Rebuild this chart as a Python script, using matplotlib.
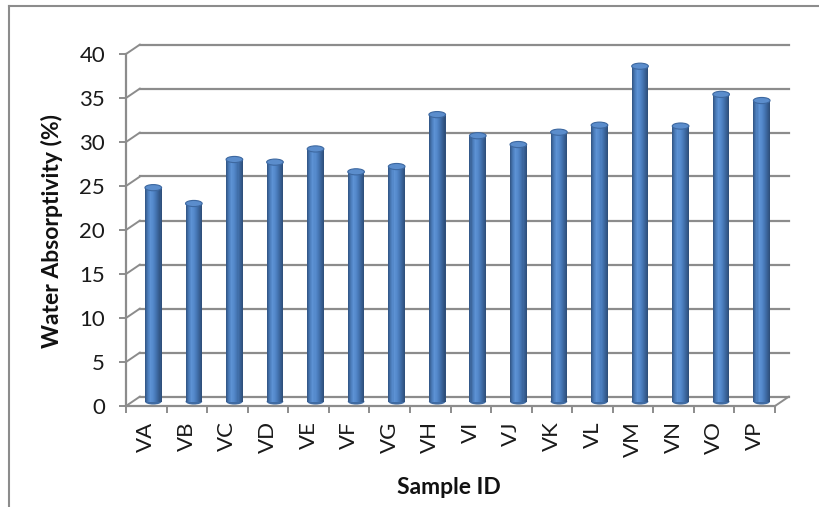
import matplotlib
matplotlib.use('Agg')
import matplotlib.pyplot as plt
import numpy as np
from matplotlib.patches import Ellipse, ConnectionPatch
from matplotlib.lines import Line2D
from matplotlib.transforms import offset_copy
from matplotlib.colors import LinearSegmentedColormap

samples = ['VA', 'VB', 'VC', 'VD', 'VE', 'VF', 'VG', 'VH',
           'VI', 'VJ', 'VK', 'VL', 'VM', 'VN', 'VO', 'VP']
absorptivity = [24.3, 22.5, 27.5, 27.2, 28.7, 26.1, 26.7, 32.6,
                30.2, 29.2, 30.6, 31.4, 38.1, 31.3, 34.9, 34.2]
y_ticks = [0, 5, 10, 15, 20, 25, 30, 35, 40]

plt.rcParams['font.family'] = ['Lato', 'DejaVu Sans']

W, H = 819, 507
fig = plt.figure(figsize=(W / 100, H / 100), dpi=100)
ax = fig.add_axes([126 / W, 1 - 406 / H, (775 - 126) / W, (406 - 54) / H])
ax.set_autoscale_on(False)
ax.set_xlim(0, len(samples))
ax.set_ylim(0, 40)
ax.patch.set_visible(False)

grid_c = '#8c8c8c'
# depth offsets of the pseudo-3d box (pixels)
back = offset_copy(ax.transData, fig=fig, x=14, y=9.5, units='dots')
mid = offset_copy(ax.transData, fig=fig, x=7, y=4.5, units='dots')

n = len(samples)
for v in y_ticks:
    ax.plot([0, n], [v, v], color=grid_c, lw=1.6, transform=back, clip_on=False, zorder=1)
    cp = ConnectionPatch(xyA=(0, v), coordsA=ax.transData, xyB=(0, v), coordsB=back,
                         color=grid_c, lw=1.4, zorder=1)
    fig.add_artist(cp)
cp = ConnectionPatch(xyA=(n, 0), coordsA=ax.transData, xyB=(n, 0), coordsB=back,
                     color=grid_c, lw=1.4, zorder=1)
fig.add_artist(cp)

for side in ['top', 'right']:
    ax.spines[side].set_visible(False)
for side in ['left', 'bottom']:
    ax.spines[side].set_color(grid_c)
    ax.spines[side].set_linewidth(1.6)

ax.set_yticks(y_ticks)
ax.set_yticklabels([str(t) for t in y_ticks])
ax.tick_params(axis='y', length=5, width=1.4, color=grid_c, pad=10, labelsize=16,
               labelcolor='#1a1a1a')

x = np.arange(n) + 0.5
ax.set_xticks(np.arange(n + 1))
ax.set_xticklabels([])
ax.set_xticks(x, minor=True)
ax.set_xticklabels(samples, minor=True, rotation=90, va='top', ha='center')
ax.tick_params(axis='x', which='major', length=5, width=1.4, color=grid_c)
ax.tick_params(axis='x', which='minor', length=0, pad=11, labelsize=16,
               labelcolor='#1a1a1a')

# cylinders
cmap = LinearSegmentedColormap.from_list(
    'cyl', ['#34598a', '#4a7cba', '#5d92d4', '#5489cb', '#4677b5', '#3a6399', '#2f507c'])
w = 0.41
eh = 0.7
for i in range(n):
    ax.add_patch(Ellipse((x[i], 0), w, eh, facecolor='#3f6ba3', edgecolor='none',
                         transform=mid, zorder=2))
strips = 16
for k in range(strips):
    xk = x - w / 2 + (k + 0.5) * w / strips
    ax.bar(xk, absorptivity, width=w / strips * 1.05, color=cmap(k / (strips - 1)),
           linewidth=0, transform=mid, zorder=3)
for i in range(n):
    ax.add_patch(Ellipse((x[i], absorptivity[i]), w, eh, facecolor='#5b8dcc',
                         edgecolor='#3d68a0', lw=0.8, transform=mid, zorder=4))

fig.text(52 / W, 1 - 231 / H, 'Water Absorptivity (%)', rotation=90, ha='center',
         va='center', fontsize=16.5, fontweight='bold', color='#111111')
fig.text(449 / W, 1 - 488 / H, 'Sample ID', ha='center', va='center',
         fontsize=16.5, fontweight='bold', color='#111111')

# chart area frame
fig.add_artist(Line2D([9 / W, 9 / W], [0, 1 - 6 / H], transform=fig.transFigure,
                      color=grid_c, lw=1.5))
fig.add_artist(Line2D([9 / W, 1], [1 - 6 / H, 1 - 6 / H], transform=fig.transFigure,
                      color=grid_c, lw=1.5))

fig.savefig('out.png', dpi=100)
